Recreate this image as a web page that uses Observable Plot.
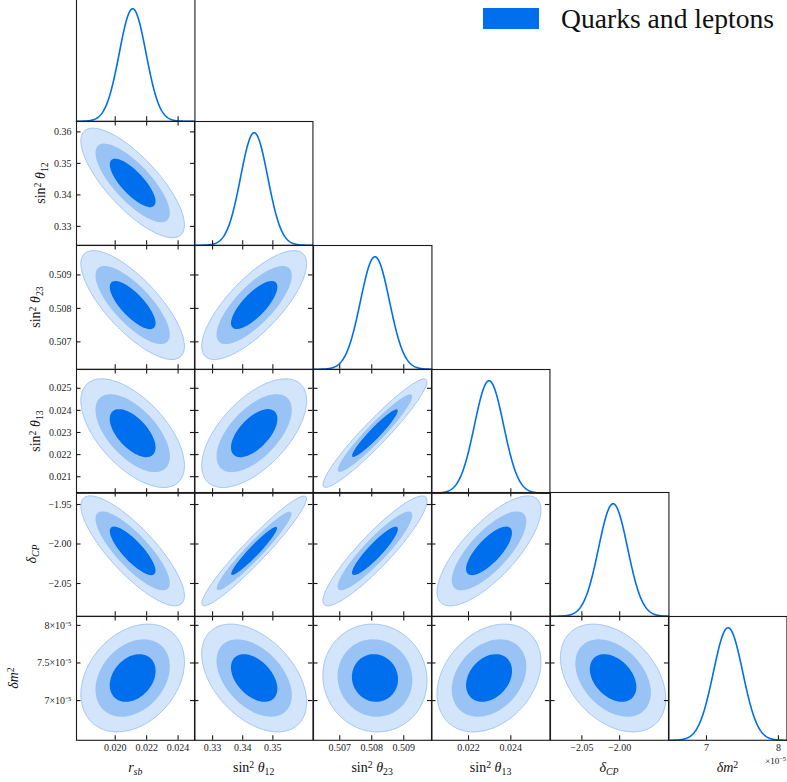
<!DOCTYPE html>
<html><head><meta charset="utf-8">
<script src="https://cdn.jsdelivr.net/npm/d3@7"></script>
<script src="https://cdn.jsdelivr.net/npm/@observablehq/plot@0.6"></script>
<style>
html,body{margin:0;padding:0;background:#fff;overflow:hidden;}
#chart{position:relative;width:787px;height:782px;font-family:"Liberation Serif",serif;color:#111;}
.panel{position:absolute;}
.title{position:absolute;font-size:14px;white-space:nowrap;line-height:1;}
.title sub,.title sup,.off sup{font-size:70%;line-height:0;position:relative;vertical-align:baseline;}
.title sup,.off sup{top:-0.45em}
.title sub{top:0.3em}
</style></head><body><div id="chart"></div>
<script>
// ---- data ----
const paramNames = ["r_sb", "sin2_theta12", "sin2_theta23", "sin2_theta13", "delta_CP", "delta_m2"];
const axisTitles = [
  "<i>r</i><sub><i>sb</i></sub>",
  "sin<sup>2</sup> <i>θ</i><sub>12</sub>",
  "sin<sup>2</sup> <i>θ</i><sub>23</sub>",
  "sin<sup>2</sup> <i>θ</i><sub>13</sub>",
  "<i>δ</i><sub><i>CP</i></sub>",
  "<i>δm</i><sup>2</sup>"
];
const means   = [0.02111, 0.3438, 0.5081, 0.02297, -2.0087, 7.30];   // delta_m2 in 1e-5
const sigma1D = [0.00085, 0.0045, 0.000453, 0.000688, 0.0192, 0.2036];
const sigma2D = [0.000965, 0.0051, 0.000477, 0.00072, 0.0204, 0.21];
// correlation coefficients, lower triangle (row param vs column param)
const rhoRows = [
  [],
  [-0.77],
  [-0.76, 0.76],
  [-0.60, 0.60, 0.95],
  [-0.82, 0.955, 0.91, 0.75],
  [0.30, -0.45, -0.05, 0.30, -0.38]
];
const contourProbs = [0.997, 0.95, 0.68];
const contourColors = ["#d3e5fb", "#99c3f5", "#006fed"];
const axisLow  = [0.01754, 0.3240, 0.50618, 0.02025, -2.0915, 6.472];
const axisHigh = [0.02507, 0.3633, 0.50988, 0.02585, -1.9348, 8.118];
const xTicks = [[0.020, 0.022, 0.024], [0.33, 0.34, 0.35], [0.507, 0.508, 0.509], [0.022, 0.024], [-2.05, -2.00], [7, 8]];
const xTickLabels = [["0.020", "0.022", "0.024"], ["0.33", "0.34", "0.35"], ["0.507", "0.508", "0.509"], ["0.022", "0.024"], ["−2.05", "−2.00"], ["7", "8"]];
const yTicks = [[], [0.33, 0.34, 0.35, 0.36], [0.507, 0.508, 0.509], [0.021, 0.022, 0.023, 0.024, 0.025], [-2.05, -2.00, -1.95], [7, 7.5, 8]];
const yTickLabels = [[], ["0.33", "0.34", "0.35", "0.36"], ["0.507", "0.508", "0.509"], ["0.021", "0.022", "0.023", "0.024", "0.025"], ["−2.05", "−2.00", "−1.95"], ["7×10⁻⁵", "7.5×10⁻⁵", "8×10⁻⁵"]];
const legendLabel = "Quarks and leptons";
const offsetLabel = "×10<sup>−5</sup>";

// ---- layout ----
const W = 118.45, H = 123.8, X0 = 76, Y0 = -2.8, N = 6, TICK = 4.5;
const yTitleX = [null, 41, 36, 36, 32, 14];
const lineColor = "#006fed", frameColor = "#1a1a1a";
const chart = document.getElementById("chart");

function labelFormatter(vals, labs) {
  const m = new Map(vals.map((v, k) => [v, labs[k]]));
  return d => m.get(d) ?? String(d);
}

function panel(i, j) {
  const xd = [axisLow[j], axisHigh[j]];
  const marks = [];
  let yd;
  if (i === j) {
    yd = [0, 1.1];
    const m = means[j], s = sigma1D[j];
    const xs = d3.range(0, 301).map(k => xd[0] + (xd[1] - xd[0]) * k / 300);
    marks.push(Plot.line(xs, {x: d => d, y: d => Math.exp(-0.5 * ((d - m) / s) ** 2), stroke: lineColor, strokeWidth: 1.6}));
    marks.push(Plot.tickX(xTicks[j], {x: d => d, insetTop: H - TICK, stroke: frameColor, strokeWidth: 1.1}));
  } else {
    yd = [axisLow[i], axisHigh[i]];
    const mx = means[j], my = means[i], sx = sigma2D[j], sy = sigma2D[i], r = rhoRows[i][j];
    const f = (x, y) => {
      const u = (x - mx) / sx, v = (y - my) / sy;
      return Math.exp(-(u * u - 2 * r * u * v + v * v) / (2 * (1 - r * r)));
    };
    contourProbs.forEach((p, k) => {
      marks.push(Plot.contour({
        x1: xd[0], x2: xd[1], y1: yd[0], y2: yd[1],
        value: f, thresholds: [1 - p],
        fill: contourColors[k],
        stroke: k === 0 ? "#8fbaf3" : "none", strokeWidth: 0.8
      }));
    });
    marks.push(Plot.tickX(xTicks[j], {x: d => d, insetTop: H - TICK, stroke: frameColor, strokeWidth: 1.1}));
    marks.push(Plot.tickX(xTicks[j], {x: d => d, insetBottom: H - TICK, stroke: frameColor, strokeWidth: 1.1}));
    marks.push(Plot.tickY(yTicks[i], {y: d => d, insetRight: W - TICK, stroke: frameColor, strokeWidth: 1.1}));
    marks.push(Plot.tickY(yTicks[i], {y: d => d, insetLeft: W - TICK, stroke: frameColor, strokeWidth: 1.1}));
    if (j === 0) {
      marks.push(Plot.axisY({ticks: yTicks[i], tickSize: 0, tickPadding: 5, label: null, anchor: "left",
        tickFormat: labelFormatter(yTicks[i], yTickLabels[i]), fill: "#222"}));
    }
  }
  if (i === N - 1) {
    marks.push(Plot.axisX({ticks: xTicks[j], tickSize: 0, tickPadding: 4, label: null, anchor: "bottom",
      tickFormat: labelFormatter(xTicks[j], xTickLabels[j]), fill: "#222"}));
  }
  marks.push(Plot.frame({stroke: frameColor, strokeWidth: 1.1}));
  const svg = Plot.plot({
    width: W, height: H,
    marginTop: 0, marginRight: 0, marginBottom: 0, marginLeft: 0,
    x: {domain: xd, axis: null},
    y: {domain: yd, axis: null},
    style: {background: "transparent", overflow: "visible", fontFamily: "Liberation Serif, serif", fontSize: "10px", maxWidth: "none"},
    marks
  });
  const div = document.createElement("div");
  div.className = "panel";
  div.style.left = (X0 + j * W) + "px";
  div.style.top = (Y0 + i * H) + "px";
  div.style.width = W + "px";
  div.style.height = H + "px";
  div.appendChild(svg);
  chart.appendChild(div);
}

for (let i = 0; i < N; i++) for (let j = 0; j <= i; j++) panel(i, j);

// axis titles
for (let j = 0; j < N; j++) {
  const t = document.createElement("div");
  t.className = "title";
  t.innerHTML = axisTitles[j];
  t.style.left = (X0 + (j + 0.5) * W) + "px";
  t.style.top = "768px";
  t.style.transform = "translate(-50%,-50%)";
  chart.appendChild(t);
}
for (let i = 1; i < N; i++) {
  const t = document.createElement("div");
  t.className = "title";
  t.innerHTML = axisTitles[i];
  t.style.left = yTitleX[i] + "px";
  t.style.top = (Y0 + (i + 0.5) * H) + "px";
  t.style.transform = "translate(-50%,-50%) rotate(-90deg)";
  chart.appendChild(t);
}
// offset text
const off = document.createElement("div");
off.className = "off";
off.innerHTML = offsetLabel;
Object.assign(off.style, {position: "absolute", right: "1px", top: "757px", fontSize: "9px", lineHeight: "1"});
chart.appendChild(off);
// legend
const sw = document.createElement("div");
Object.assign(sw.style, {position: "absolute", left: "483px", top: "8px", width: "56px", height: "21px", background: lineColor});
chart.appendChild(sw);
const lt = document.createElement("div");
lt.textContent = legendLabel;
Object.assign(lt.style, {position: "absolute", left: "561px", top: "5px", fontSize: "27.6px", lineHeight: "1", whiteSpace: "nowrap"});
chart.appendChild(lt);
</script></body></html>
